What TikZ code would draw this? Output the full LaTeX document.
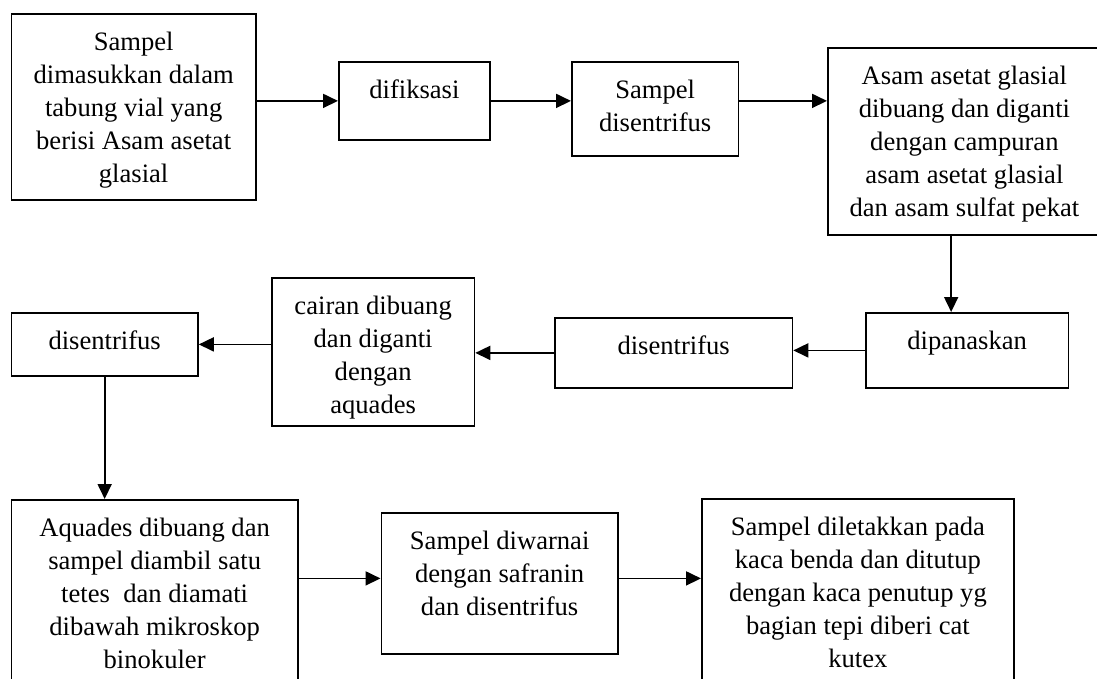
\documentclass[tikz,border=0pt]{standalone}
\usepackage{fontspec}
\setmainfont{Liberation Serif}
\usetikzlibrary{arrows.meta,positioning}

\begin{document}
\begin{tikzpicture}[
  x=1pt, y=-1pt,
  box/.style={draw, line width=1.8pt, inner sep=0pt, anchor=north west},
  lbl/.style={anchor=north, align=center, inner sep=0pt, yshift=-19pt, font=\fontsize{26.6}{33}\selectfont},
  ar/.style={-{Triangle[length=15pt,width=14pt]}, line width=1.8pt}
]
\clip (0,0) rectangle (1097,679);
\node[box, minimum width=244.5pt, minimum height=186pt, label={[lbl]north:Sampel\\dimasukkan dalam\\tabung vial yang\\berisi Asam asetat\\glasial}] (Samp) at (10.5,13) {};
\node[box, minimum width=151pt, minimum height=78pt, label={[lbl]north:difiksasi}] (Fiks) at (338,61) {};
\node[box, minimum width=166.5pt, minimum height=94pt, label={[lbl]north:Sampel\\disentrifus}] (Sent1) at (571,61) {};
\node[box, minimum width=273pt, minimum height=187pt, label={[lbl]north:Asam asetat glasial\\dibuang dan diganti\\dengan campuran\\asam asetat glasial\\dan asam sulfat pekat}] (Asam) at (827,47) {};
\node[box, minimum width=202.5pt, minimum height=75pt, label={[lbl]north:dipanaskan}] (Pan) at (865,312) {};
\node[box, minimum width=237.5pt, minimum height=70pt, label={[lbl]north:disentrifus}] (Sent2) at (554,317) {};
\node[box, minimum width=202.5pt, minimum height=148pt, label={[lbl]north:cairan dibuang\\dan diganti\\dengan\\aquades}] (Cair) at (271,277) {};
\node[box, minimum width=186.5pt, minimum height=63pt, label={[lbl]north:disentrifus}] (Sent3) at (10.5,312) {};
\node[box, minimum width=286.5pt, minimum height=220pt, label={[lbl]north:Aquades dibuang dan\\sampel diambil satu\\tetes~ dan diamati\\dibawah mikroskop\\binokuler}] (Aq) at (10.5,499) {};
\node[box, minimum width=236.5pt, minimum height=141pt, label={[lbl]north:Sampel diwarnai\\dengan safranin\\dan disentrifus}] (Warn) at (380.5,512) {};
\node[box, minimum width=312pt, minimum height=220pt, label={[lbl]north:Sampel diletakkan pada\\kaca benda dan ditutup\\dengan kaca penutup yg\\bagian tepi diberi cat\\kutex}] (Let) at (701,498) {};
\draw[ar] (Samp.east |- Fiks.west) -- (Fiks.west);
\draw[ar] (Fiks.east) -- (Fiks.east -| Sent1.west);
\draw[ar] (Fiks.east -| Sent1.east) -- (Fiks.east -| Asam.west);
\draw[ar] ([xshift=-16pt]Pan.north |- Asam.south) -- ([xshift=-16pt]Pan.north);
\draw[ar] (Pan.west) -- (Pan.west -| Sent2.east);
\draw[ar] (Sent2.west) -- (Sent2.west -| Cair.east);
\draw[ar] (Sent3.east -| Cair.west) -- (Sent3.east);
\draw[ar] (Sent3.south) -- (Sent3.south |- Aq.north);
\draw[ar] ([yshift=5pt]Warn.west -| Aq.east) -- ([yshift=5pt]Warn.west);
\draw[ar] ([yshift=5pt]Warn.east) -- ([yshift=5pt]Warn.east -| Let.west);
\end{tikzpicture}
\end{document}
